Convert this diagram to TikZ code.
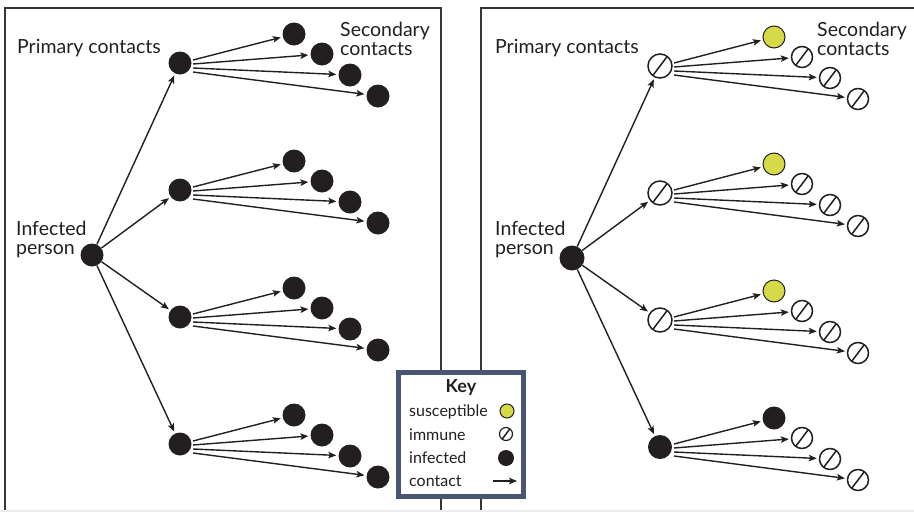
\documentclass[tikz,border=0pt]{standalone}
\usepackage{fontspec}
\setmainfont{Lato}
\usepackage{tikz}
\usetikzlibrary{calc}
\usetikzlibrary{arrows.meta}
\definecolor{darkink}{RGB}{35,31,32}
\definecolor{keyyellow}{RGB}{214,218,72}
\definecolor{keyblue}{RGB}{72,86,116}
\tikzset{
    inf/.style={circle,fill=darkink,inner sep=0pt,minimum size=23pt},
    imm/.style={circle,draw=darkink,fill=white,line width=1.5pt,inner sep=0pt,minimum size=21pt,
      path picture={\draw[line width=1.5pt,darkink]
        ($(path picture bounding box.center)!1!233:(path picture bounding box.east)$) --
        ($(path picture bounding box.center)!1!53:(path picture bounding box.east)$);}},
    sus/.style={circle,draw=darkink,fill=keyyellow,line width=1pt,inner sep=0pt,minimum size=22pt},
    cont/.style={darkink,line width=1.4pt,shorten >=2pt,-{Stealth[length=8pt,width=6.5pt,inset=1.8pt]}},
    panel/.style={draw=darkink!90,line width=1.6pt},
    lbl/.style={font=\fontsize{19.5}{18.5}\selectfont,text=darkink,inner sep=0pt,align=left,anchor=base west},
    keytxt/.style={font=\fontsize{16}{16}\selectfont,text=darkink,inner sep=0pt,anchor=base west}
}

\begin{document}
\begin{tikzpicture}[x=1pt,y=-1pt]
\useasboundingbox (0,0) rectangle (914,512);
\fill[black!7] (0,510) rectangle (914,512);
\draw[panel] (5,510) -- (5,8) -- (441,8) -- (441,510);
\draw[panel] (481,510) -- (481,8) -- (915,8);

% left: all infected
\node[lbl] (Lprim) at (17,53) {Primary contacts};
\node[lbl] (Lsec) at (340,55) {Secondary\\contacts};
\node[lbl] (Linf) at (16,254) {Infected\\person};
\node[inf] (Lip) at (92,255) {};
\foreach \k in {0,...,3}{
  \node[inf] (Lp\k) at (180,63+127*\k) {};
  \draw[cont] (Lip) -- (Lp\k);
  \foreach \j/\dx/\dy in {0/114/-29,1/142/-9,2/170/12,3/198/33}{
    \node[inf] (Ls\k\j) at ($(Lp\k)+(\dx,\dy)$) {};
    \draw[cont] ($(Lp\k.center)+(13,-3+4*\j)$) -- (Ls\k\j);}
}

% right: with immunity
\begin{scope}[xshift=480pt,yshift=-3pt]
\node[lbl] (Rprim) at (15,50) {Primary contacts};
\node[lbl] (Rsec) at (337,52) {Secondary\\contacts};
\node[lbl] (Rinf) at (15,251) {Infected\\person};
\node[inf,minimum size=25pt] (Rip) at (92,255) {};
\foreach \k/\pt/\st in {0/imm/sus,1/imm/sus,2/imm/sus,3/inf/inf}{
  \node[\pt,minimum size=24pt] (Rp\k) at (180,63+127*\k) {};
  \draw[cont] (Rip) -- (Rp\k);
  \foreach \j/\dx/\dy in {0/114/-29,1/142/-9,2/170/12,3/198/33}{
    \ifnum\j=0
      \node[\st] (Rs\k\j) at ($(Rp\k)+(\dx,\dy)$) {};
    \else
      \node[imm] (Rs\k\j) at ($(Rp\k)+(\dx,\dy)$) {};
    \fi
    \draw[cont] ($(Rp\k.center)+(14,-3+4*\j)$) -- (Rs\k\j);}
}
\end{scope}

% key
\node[draw=keyblue,line width=4.5pt,fill=white,minimum width=125pt,minimum height=124pt] (key) at (461,434.5) {};
\node[font=\fontsize{18}{18}\selectfont\bfseries,text=darkink,inner sep=0pt,anchor=base] (keyhd) at (461,392) {Key};
\node[keytxt] (ksustxt) at (409,416) {susceptible};
\node[keytxt] (kimmtxt) at (409,440) {immune};
\node[keytxt] (kinftxt) at (409,463) {infected};
\node[keytxt] (kcontxt) at (409,486) {contact};
\node[sus,minimum size=14pt] (ksus) at (507,411) {};
\node[imm,minimum size=13pt,line width=1.2pt] (kimm) at (506,434) {};
\node[inf,minimum size=16pt] (kinf) at (506,458) {};
\coordinate (kc1) at (493,481);
\coordinate (kc2) at (517,481);
\draw[cont,shorten >=0pt,line width=1.2pt] (kc1) -- (kc2);
\end{tikzpicture}
\end{document}
